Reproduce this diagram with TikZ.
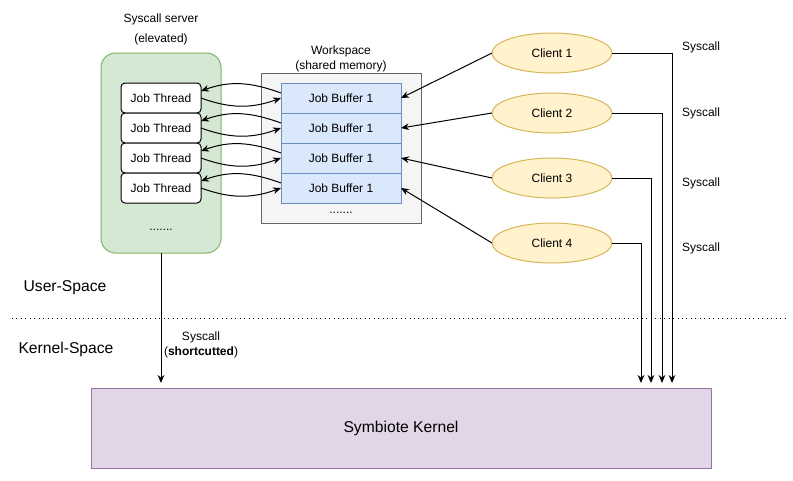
\documentclass[tikz,border=0pt]{standalone}
\usepackage{fontspec}
\setmainfont{Liberation Sans}
\usetikzlibrary{arrows.meta,shapes.geometric}
\definecolor{srvfill}{HTML}{D5E8D4}
\definecolor{srvdraw}{HTML}{82B366}
\definecolor{wsfill}{HTML}{F5F5F5}
\definecolor{wsdraw}{HTML}{666666}
\definecolor{buffill}{HTML}{DAE8FC}
\definecolor{bufdraw}{HTML}{6C8EBF}
\definecolor{clifill}{HTML}{FFF2CC}
\definecolor{clidraw}{HTML}{D6B656}
\definecolor{kernfill}{HTML}{E1D5E7}
\definecolor{kerndraw}{HTML}{9673A6}
\begin{document}
\begin{tikzpicture}[x=0.75pt,y=-0.75pt,inner sep=0pt,outer sep=0pt,line width=0.75pt,
>={Stealth[length=6pt,width=5pt]},font=\fontsize{9}{11.25}\selectfont,
srvbox/.style={draw=srvdraw,fill=srvfill,rectangle,rounded corners=11pt,minimum width=90pt,minimum height=150pt},
wsbox/.style={draw=wsdraw,fill=wsfill,rectangle,minimum width=120pt,minimum height=112.5pt},
thread/.style={draw,fill=white,rectangle,rounded corners=3pt,minimum width=60pt,minimum height=22.5pt},
buffer/.style={draw=bufdraw,fill=buffill,rectangle,minimum width=90pt,minimum height=22.5pt},
client/.style={draw=clidraw,fill=clifill,ellipse,minimum width=90pt,minimum height=30pt},
kernbox/.style={draw=kerndraw,fill=kernfill,rectangle,minimum width=465pt,minimum height=60pt},
big/.style={font=\fontsize{11.75}{14}\selectfont},
small/.style={font=\fontsize{9}{11.25}\selectfont,align=center}]
\useasboundingbox (0,0) rectangle (793,480);
% server and workspace
\draw (161,153) node[srvbox] (srv) {};
\draw (161,29) node[align=center,font=\fontsize{9}{15}\selectfont] (srvlbl) {Syscall server\\(elevated)};
\draw (161,230) node (srvdots) {.......};
\draw (341,148) node[wsbox] (ws) {};
\draw (341,58.5) node[align=center] (wslbl) {Workspace\\(shared memory)};
\draw (341,213) node (wsdots) {.......};
% job threads and buffers
\draw (161,98) node[thread] (jt1) {Job Thread};
\draw (161,128) node[thread] (jt2) {Job Thread};
\draw (161,158) node[thread] (jt3) {Job Thread};
\draw (161,188) node[thread] (jt4) {Job Thread};
\draw (341,98) node[buffer] (jb1) {Job Buffer 1};
\draw (341,128) node[buffer] (jb2) {Job Buffer 1};
\draw (341,158) node[buffer] (jb3) {Job Buffer 1};
\draw (341,188) node[buffer] (jb4) {Job Buffer 1};
\draw[->] (jt1.east) to[out=-20,in=200] (jb1.west);
\draw[->] ([yshift=3.75pt]jb1.west) to[out=160,in=20] ([yshift=5.25pt]jt1.east);
\draw[->] (jt2.east) to[out=-20,in=200] (jb2.west);
\draw[->] ([yshift=3.75pt]jb2.west) to[out=160,in=20] ([yshift=5.25pt]jt2.east);
\draw[->] (jt3.east) to[out=-20,in=200] (jb3.west);
\draw[->] ([yshift=3.75pt]jb3.west) to[out=160,in=20] ([yshift=5.25pt]jt3.east);
\draw[->] (jt4.east) to[out=-20,in=200] (jb4.west);
\draw[->] ([yshift=3.75pt]jb4.west) to[out=160,in=20] ([yshift=5.25pt]jt4.east);
% clients
\draw (552,53) node[client] (c1) {Client 1};
\draw (552,113) node[client] (c2) {Client 2};
\draw (552,178) node[client] (c3) {Client 3};
\draw (552,243) node[client] (c4) {Client 4};
\draw[->] (c1.west) -- (jb1.east);
\draw[->] (c2.west) -- (jb2.east);
\draw[->] (c3.west) -- (jb3.east);
\draw[->] (c4.west) -- (jb4.east);
% kernel
\draw (401,428) node[kernbox,big] (kern) {Symbiote Kernel};
\draw[->,shorten >=3.75pt] (c1.east) -| ([xshift=203.25pt]kern.north);
\draw[->,shorten >=3.75pt] (c2.east) -| ([xshift=195.75pt]kern.north);
\draw[->,shorten >=3.75pt] (c3.east) -| ([xshift=187.5pt]kern.north);
\draw[->,shorten >=3.75pt] (c4.east) -| ([xshift=180pt]kern.north);
\draw (701,47) node (sc1) {Syscall};
\draw (701,113) node (sc2) {Syscall};
\draw (701,183) node (sc3) {Syscall};
\draw (701,248) node (sc4) {Syscall};
\draw[->,shorten >=3.75pt] (srv.south) -- (srv.south |- kern.north);
\draw (201,344.5) node[small] (short) {Syscall\\(\textbf{shortcutted})};
% user / kernel split
\draw[dash pattern=on 0.75pt off 2.6pt] (12,318) -- (785,318);
\draw (65,288) node[big] (user) {User-Space};
\draw (66,349) node[big] (kspace) {Kernel-Space};
\end{tikzpicture}
\end{document}
